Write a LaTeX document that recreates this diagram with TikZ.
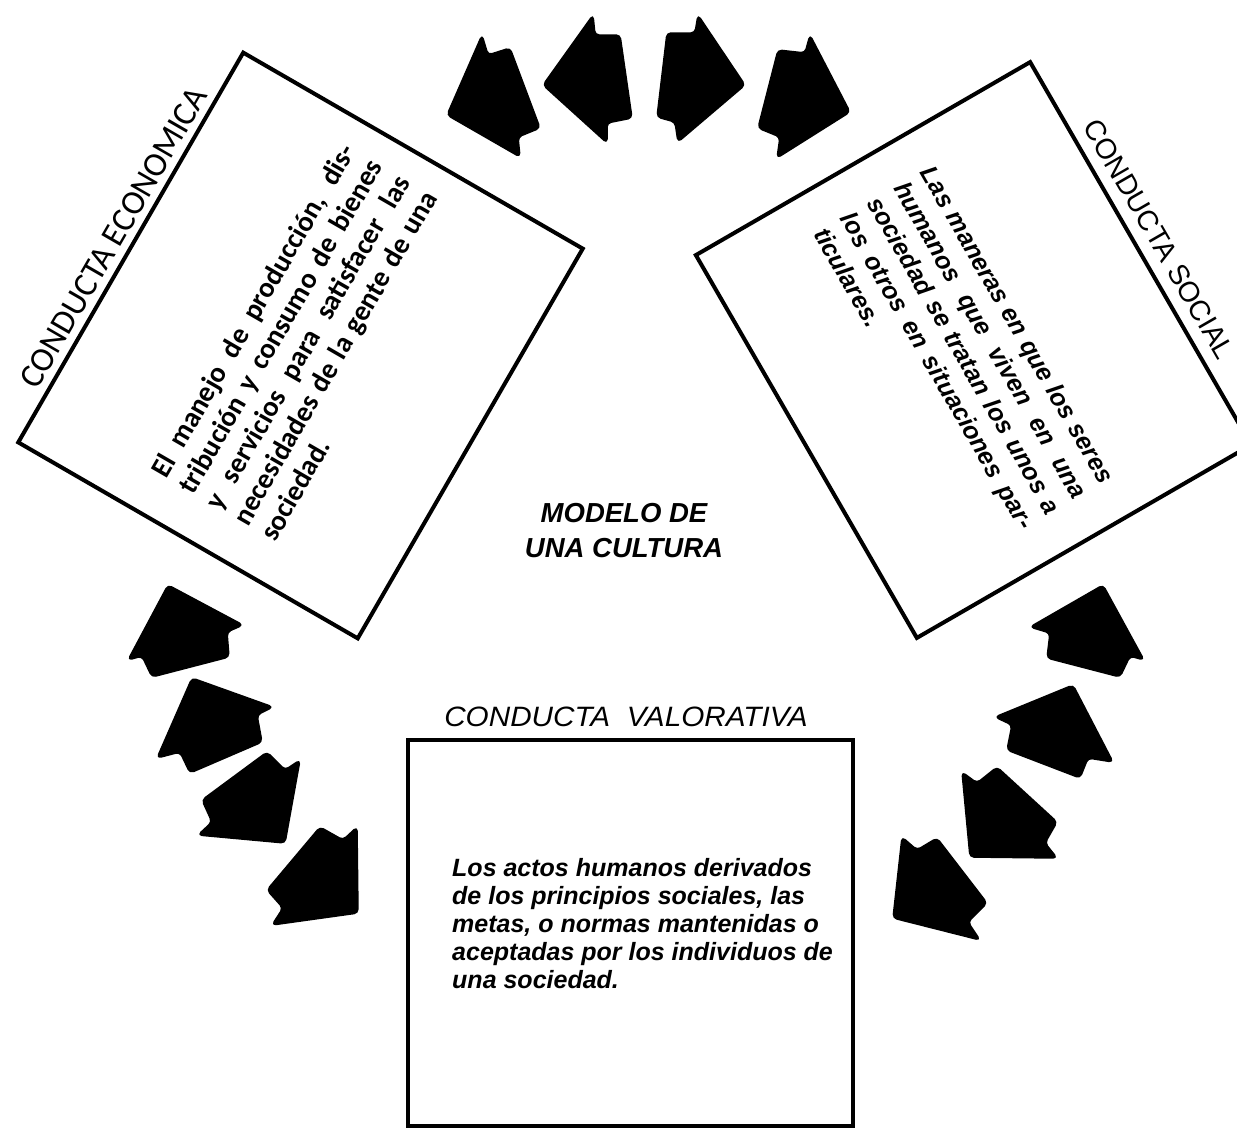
\documentclass[tikz,border=0pt]{standalone}
\usepackage{fontspec}
\usepackage{graphicx}
\setmainfont{Liberation Sans}
\newfontfamily\carl{Carlito}
\newcommand{\jlA}[1]{\makebox[380pt][s]{#1}}
\newcommand{\jlB}[1]{\makebox[361pt][s]{#1}}
\tikzset{
  boxn/.style={draw=black, line width=4pt, rectangle, inner sep=0pt, outer sep=0pt},
  blk/.style={fill=black, draw=black, line width=1.5pt, rounded corners=4pt, line join=round}
}
\begin{document}
\begin{tikzpicture}[x=1pt,y=-1pt]
\useasboundingbox (0,0) rectangle (1237,1128);
\clip (0,0) rectangle (1237,1128);

% --- boxes ---
\node[boxn, rotate=60, minimum width=450pt, minimum height=392pt] (econ) at (300.5,345.5) {};
\node[boxn, rotate=-60, minimum width=442pt, minimum height=386pt] (soc) at (973.5,350) {};
\node[boxn, minimum width=445pt, minimum height=386pt] (val) at (630.5,933) {};

% --- titles ---
\node[rotate=60, inner sep=0pt, font=\carl\fontsize{34}{34}\selectfont] (econtitle) at (113.5,237.5) {CONDUCTA ECONOMICA};
\node[rotate=-60, inner sep=0pt, font=\fontsize{28.5}{28.5}\selectfont] (soctitle) at (1159,239) {CONDUCTA SOCIAL};
\node[inner sep=0pt, font=\itshape\fontsize{28}{28}\selectfont] (valtitle) at (626,717) {\scalebox{1.06}[1]{CONDUCTA\ \ VALORATIVA}};

% --- texts ---
\node[rotate=60, align=left, inner sep=0pt,
      font=\carl\bfseries\fontsize{28.5}{31.5}\selectfont] (econtxt) at (307.2,341.9)
  {\jlA{El manejo de producción, dis-}\\ \jlA{tribución y consumo de bienes}\\ \jlA{y servicios para satisfacer las}\\ \jlA{necesidades de la gente de una}\\ sociedad.};
\node[rotate=-60, align=left, inner sep=0pt,
      font=\bfseries\itshape\fontsize{25}{30.7}\selectfont] (soctxt) at (964.4,355.3)
  {\jlB{Las maneras en que los seres}\\ \jlB{humanos que viven en una}\\ \jlB{sociedad se tratan los unos a}\\ \jlB{los otros en situaciones par-}\\ ticulares.};
\node[anchor=north west, align=left, inner sep=0pt,
      font=\bfseries\itshape\fontsize{25}{28}\selectfont] (valtxt) at (452,858)
  {Los actos humanos derivados\\ de los principios sociales, las\\ metas, o normas mantenidas o\\ aceptadas por los individuos de\\ una sociedad.};
\node[align=center, inner sep=0pt, font=\bfseries\itshape\fontsize{27.5}{35}\selectfont] (modelo) at (624,531)
  {MODELO DE\\ UNA CULTURA};

% --- top arrows ---
\path[blk] (447,115) -- (482,35) -- (488,55) -- (510,48) -- (540,128) -- (518,137) -- (520,157) -- cycle;
\path[blk] (543,85) -- (593,15) -- (595,35) -- (620,35) -- (632,118) -- (607,123) -- (607,143) -- cycle;
\path[blk] (745,85) -- (698,15) -- (695,33) -- (667,33) -- (657,117) -- (675,122) -- (678,142) -- cycle;
\path[blk] (850,112) -- (810,35) -- (805,53) -- (778,50) -- (758,128) -- (780,137) -- (777,158) -- cycle;

% --- lower left arrows ---
\path[blk] (168,585) -- (243,625) -- (227,632) -- (229,657) -- (152,677) -- (142,656) -- (128,660) -- cycle;
\path[blk] (192,678) -- (273,707) -- (257,715) -- (262,742) -- (190,773) -- (180,752) -- (157,758) -- cycle;
\path[blk] (267,752) -- (285,770) -- (300,760) -- (285,843) -- (198,835) -- (212,822) -- (202,800) -- cycle;
\path[blk] (320,827) -- (343,840) -- (357,827) -- (358,913) -- (272,925) -- (283,908) -- (267,890) -- cycle;

% --- lower right arrows ---
\path[blk] (1103,585) -- (1030,627) -- (1050,633) -- (1047,658) -- (1120,677) -- (1130,656) -- (1144,660) -- cycle;
\path[blk] (1073,685) -- (995,717) -- (1012,725) -- (1007,750) -- (1080,778) -- (1088,758) -- (1113,762) -- cycle;
\path[blk] (962,772) -- (977,783) -- (997,767) -- (1057,822) -- (1045,843) -- (1057,858) -- (970,857) -- cycle;
\path[blk] (902,837) -- (917,850) -- (937,838) -- (987,903) -- (968,922) -- (980,940) -- (893,918) -- cycle;

\end{tikzpicture}
\end{document}
